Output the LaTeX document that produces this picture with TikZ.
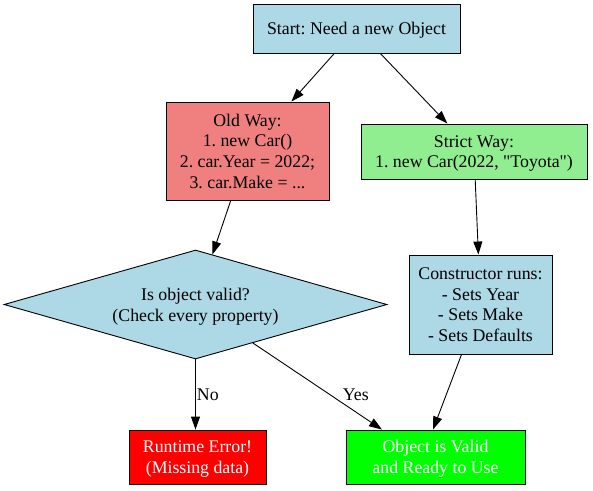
\documentclass[tikz,border=0pt]{standalone}
\usepackage{fontspec}
\setmainfont{Liberation Serif}[Ligatures=TeXOff]
\usetikzlibrary{shapes.geometric,arrows.meta}
\definecolor{lblue}{HTML}{ADD8E6}
\definecolor{lcoral}{HTML}{F08080}
\definecolor{lgreen}{HTML}{90EE90}
\definecolor{pred}{HTML}{FF0000}
\definecolor{pgreen}{HTML}{00FF00}
\frenchspacing
\begin{document}
\begin{tikzpicture}[x=1pt,y=-1pt,
  every node/.style={font=\fontsize{17.8}{20.7}\selectfont, align=center, inner sep=0pt},
  box/.style={draw=black, line width=0.9pt, rectangle, text depth=0pt},
  conn/.style={draw=black, line width=0.9pt, -{Triangle[length=13pt,width=9pt]}},
  elabel/.style={font=\fontsize{17.8}{20}\selectfont}]
\useasboundingbox (0,0) rectangle (593,490);
\node[box, fill=lblue, minimum width=207pt, minimum height=49pt] (start) at (356.5,28.5) {Start: Need a new Object};
\node[box, fill=lcoral, minimum width=163pt, minimum height=98pt] (old) at (247.5,151) {Old Way:\\1. new Car()\\2. car.Year = 2022;\\3. car.Make = ...};
\node[box, fill=lgreen, minimum width=226pt, minimum height=55pt] (strict) at (474,151.5) {Strict Way:\\1. new Car(2022, "Toyota")};
\node[draw=black, line width=0.9pt, diamond, fill=lblue, minimum width=383pt, minimum height=109pt, aspect=3.5, text depth=0pt] (valid) at (195.5,304.5) {Is object valid?\\(Check every property)};
\node[box, fill=lblue, minimum width=143pt, minimum height=99pt] (ctor) at (480.5,304.5) {Constructor runs:\\- Sets Year\\- Sets Make\\- Sets Defaults};
\node[box, fill=pred, text=white, minimum width=137pt, minimum height=54pt] (err) at (197.5,457) {Runtime Error!\\(Missing data)};
\node[box, fill=pgreen, text=white, minimum width=179pt, minimum height=54pt] (ok) at (435.5,457) {Object is Valid\\and Ready to Use};
\coordinate (okyes) at ([xshift=-53.5pt]ok.north);
\coordinate (okctor) at ([xshift=-2.5pt]ok.north);
\draw[conn] (start) -- (old);
\draw[conn] (start) -- (strict);
\draw[conn] (old) -- (valid);
\draw[conn] (strict) -- (ctor);
\draw[conn] (valid.south) -- node[elabel, pos=0.5, anchor=west, xshift=1pt] {No} (valid.south |- err.north);
\draw[conn] (valid) -- node[elabel, pos=0.6, anchor=west, xshift=12pt] {Yes} (okyes);
\draw[conn] (ctor) -- (okctor);
\end{tikzpicture}
\end{document}
